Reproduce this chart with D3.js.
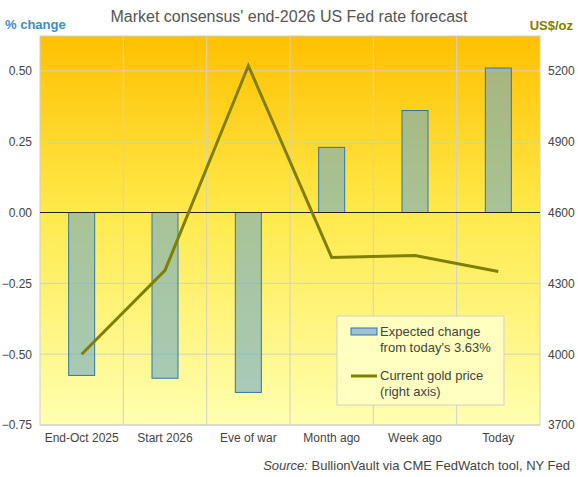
<!DOCTYPE html>
<html><head><meta charset="utf-8">
<script src="https://cdn.jsdelivr.net/npm/d3@7"></script>
<style>body{margin:0;background:#fff}text{font-family:Arial,"Liberation Sans",sans-serif}</style>
</head><body><svg id="chart" width="578" height="477"></svg>
<script>
const categories = ["End-Oct 2025", "Start 2026", "Eve of war", "Month ago", "Week ago", "Today"];
const rateChange = [-0.575, -0.585, -0.635, 0.23, 0.36, 0.51];
const goldPrice = [4000, 4355, 5222, 4410, 4418, 4350];
const leftTicks = [-0.75, -0.5, -0.25, 0, 0.25, 0.5];
const rightTicks = [3700, 4000, 4300, 4600, 4900, 5200];

const svg = d3.select("#chart");
const m = {l: 40, r: 540, t: 36, b: 425};
const defs = svg.append("defs");
const bg = defs.append("linearGradient").attr("id", "bg").attr("x1", 0).attr("y1", 0).attr("x2", 0).attr("y2", 1);
bg.append("stop").attr("offset", "0%").attr("stop-color", "#ffc000");
bg.append("stop").attr("offset", "45%").attr("stop-color", "#ffe94a");
bg.append("stop").attr("offset", "100%").attr("stop-color", "#ffffb0");

svg.append("rect").attr("width", 578).attr("height", 477).attr("fill", "#fff");

const x = d3.scaleBand().domain(categories).range([m.l, m.r]);
const y = d3.scaleLinear().domain([-0.75, 0.623]).range([m.b, m.t]);
const y2 = d3.scaleLinear().domain([3700, 5348]).range([m.b, m.t]);

const g = svg.append("g");
g.append("rect").attr("x", m.l).attr("y", m.t).attr("width", m.r - m.l).attr("height", m.b - m.t)
  .attr("fill", "url(#bg)");
// grid
g.selectAll(".hg").data(leftTicks).join("line")
  .attr("x1", m.l).attr("x2", m.r).attr("y1", d => y(d)).attr("y2", d => y(d))
  .attr("stroke", "#d0d0d0").attr("stroke-width", 1);
g.selectAll(".vg").data(categories.slice(1)).join("line")
  .attr("x1", d => x(d)).attr("x2", d => x(d)).attr("y1", m.t).attr("y2", m.b)
  .attr("stroke", "#d0d0d0");
g.append("rect").attr("x", m.l).attr("y", m.t).attr("width", m.r - m.l).attr("height", m.b - m.t)
  .attr("fill", "none").attr("stroke", "#d0d0d0");

// bars
const bw = 26;
g.selectAll(".bar").data(rateChange).join("rect")
  .attr("x", (d, i) => x(categories[i]) + x.bandwidth() / 2 - bw / 2)
  .attr("width", bw)
  .attr("y", d => y(Math.max(0, d)))
  .attr("height", d => Math.abs(y(d) - y(0)))
  .attr("fill", "rgba(110,170,200,0.6)").attr("stroke", "#2e75b6").attr("stroke-width", 1);

g.append("line").attr("x1", m.l).attr("x2", m.r).attr("y1", y(0)).attr("y2", y(0)).attr("stroke", "#222");

// gold line
g.append("path").datum(goldPrice)
  .attr("d", d3.line().x((d, i) => x(categories[i]) + x.bandwidth() / 2).y(d => y2(d)))
  .attr("fill", "none").attr("stroke", "#808000").attr("stroke-width", 3);

// axes
const ax = d3.axisLeft(y).tickValues(leftTicks).tickSize(0).tickPadding(8).tickFormat(d3.format(".2f"));
svg.append("g").attr("transform", `translate(${m.l},0)`).call(ax)
  .call(s => s.select(".domain").remove())
  .selectAll("text").attr("font-size", 12).attr("fill", "#444");
const ax2 = d3.axisRight(y2).tickValues(rightTicks).tickSize(0).tickPadding(8).tickFormat(d3.format("d"));
svg.append("g").attr("transform", `translate(${m.r},0)`).call(ax2)
  .call(s => s.select(".domain").remove())
  .selectAll("text").attr("font-size", 12).attr("fill", "#444");
const axb = d3.axisBottom(x).tickSize(0).tickPadding(8);
svg.append("g").attr("transform", `translate(0,${m.b})`).call(axb)
  .call(s => s.select(".domain").remove())
  .selectAll("text").attr("font-size", 12).attr("fill", "#444");

// titles
svg.append("text").attr("x", 289).attr("y", 22).attr("text-anchor", "middle")
  .attr("font-size", 16).attr("fill", "#555").text("Market consensus'  end-2026 US Fed rate forecast");
svg.append("text").attr("x", 5).attr("y", 29).attr("font-size", 13).attr("font-weight", "bold")
  .attr("fill", "#3a8fd0").text("% change");
svg.append("text").attr("x", 573).attr("y", 30).attr("text-anchor", "end").attr("font-size", 13)
  .attr("font-weight", "bold").attr("fill", "#808000").text("US$/oz");
svg.append("text").attr("x", 570).attr("y", 470).attr("text-anchor", "end").attr("font-size", 13)
  .attr("fill", "#444")
  .html('<tspan font-style="italic">Source:</tspan>  BullionVault  via  CME FedWatch tool, NY Fed');

// legend
const lg = svg.append("g").attr("transform", "translate(337,316)");
lg.append("rect").attr("width", 167).attr("height", 89).attr("fill", "#ffffc0").attr("stroke", "#d0d0d0");
lg.append("rect").attr("x", 14).attr("y", 12).attr("width", 26).attr("height", 7)
  .attr("fill", "#9fc3d0").attr("stroke", "#2e75b6");
lg.append("line").attr("x1", 14).attr("x2", 40).attr("y1", 60).attr("y2", 60)
  .attr("stroke", "#808000").attr("stroke-width", 3);
const lt = [["Expected change", 20], ["from today's 3.63%", 36], ["Current gold price", 64], ["(right axis)", 80]];
lg.selectAll(".lt").data(lt).join("text").attr("x", 43).attr("y", d => d[1])
  .attr("font-size", 13).attr("fill", "#444").text(d => d[0]);
</script></body></html>
